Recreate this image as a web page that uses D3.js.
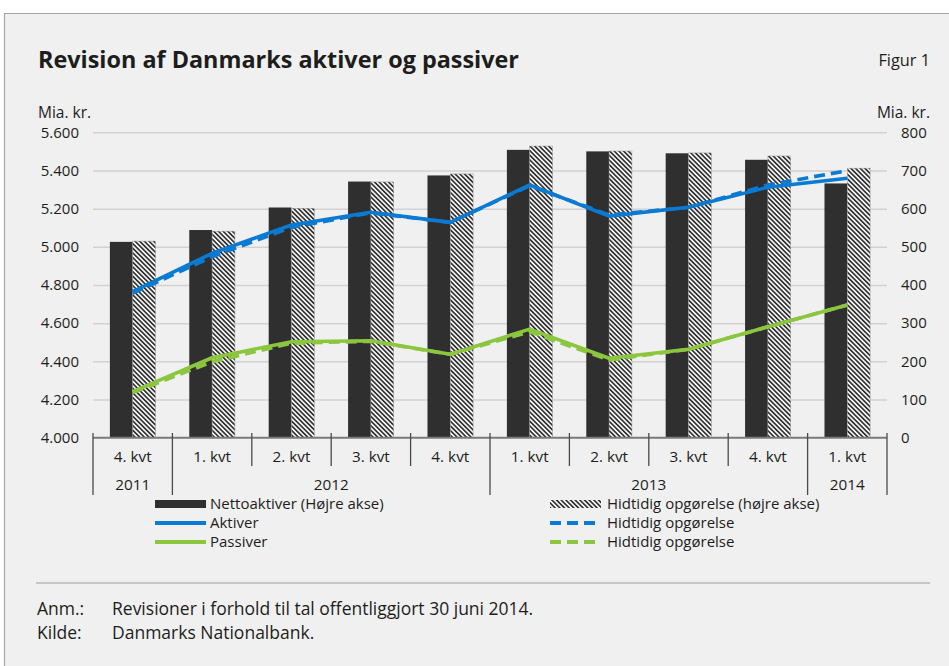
<!DOCTYPE html>
<html>
<head>
<meta charset="utf-8">
<script src="https://cdn.jsdelivr.net/npm/d3@7"></script>
<style>
	body { margin: 0; background: #fff; }
	svg text { font-family: "Open Sans", "Noto Sans", sans-serif; fill: #1d1d1b; }
</style>
</head>
<body>
<svg id="chart" width="949" height="666"></svg>
<script>
// periods (unique keys), shown labels and year of each quarter
const periods  = ["2011K4","2012K1","2012K2","2012K3","2012K4","2013K1","2013K2","2013K3","2013K4","2014K1"];
const quarters = ["4. kvt","1. kvt","2. kvt","3. kvt","4. kvt","1. kvt","2. kvt","3. kvt","4. kvt","1. kvt"];
const years    = ["2011","2012","2012","2012","2012","2013","2013","2013","2013","2014"];

// right axis, mia. kr.
const nettoaktiver     = [513, 544, 603, 671, 687, 754, 750, 745, 728, 666];
const nettoHidtidig    = [515, 541, 601, 670, 691, 764, 751, 746, 738, 706];
// left axis, mia. kr.
const aktiver          = [4765, 4966, 5114, 5181, 5128, 5324, 5161, 5207, 5312, 5359];
const aktiverHidtidig  = [4757, 4948, 5102, 5178, 5128, 5320, 5167, 5207, 5324, 5399];
const passiver         = [4241, 4419, 4503, 4508, 4437, 4569, 4416, 4463, 4581, 4695];
const passiverHidtidig = [4236, 4398, 4495, 4505, 4437, 4555, 4407, 4463, 4581, 4695];

const leftTicks  = [4000, 4200, 4400, 4600, 4800, 5000, 5200, 5400, 5600];
const rightTicks = [0, 100, 200, 300, 400, 500, 600, 700, 800];

const BLUE = "#0a7ad2", GREEN = "#8cc63f", DARK = "#2f2f2f";

const dk = d3.formatLocale({ decimal: ",", thousands: ".", grouping: [3], currency: ["", " kr."] });
const fmt = dk.format(",");

const svg = d3.select("#chart");
const plot = { left: 93, right: 887, top: 132.3, bottom: 437.7 };

// frame
svg.append("rect").attr("x", 4).attr("y", 13).attr("width", 945).attr("height", 653).attr("fill", "#f0f0f0");
svg.append("path").attr("d", "M4.5,666V13.5H949").attr("fill", "none").attr("stroke", "#a6a6a6").attr("stroke-width", 1.2);

// hatch pattern
const pat = svg.append("defs").append("pattern")
	.attr("id", "hatch")
	.attr("patternUnits", "userSpaceOnUse")
	.attr("width", 3.3).attr("height", 10)
	.attr("patternTransform", "rotate(-45)");
pat.append("rect").attr("width", 3.3).attr("height", 10).attr("fill", "#fafafa");
pat.append("rect").attr("width", 1.7).attr("height", 10).attr("fill", "#333");

// titles
svg.append("text").attr("x", 38).attr("y", 68).attr("font-size", 23.4).attr("font-weight", "bold")
	.text("Revision af Danmarks aktiver og passiver");
svg.append("text").attr("x", 930).attr("y", 66).attr("font-size", 16.3).attr("text-anchor", "end").text("Figur 1");
svg.append("text").attr("x", 38).attr("y", 118).attr("font-size", 15.5).text("Mia. kr.");
svg.append("text").attr("x", 930).attr("y", 118).attr("font-size", 15.5).attr("text-anchor", "end").text("Mia. kr.");

// scales
const x = d3.scaleBand().domain(periods).range([plot.left, plot.right]);
const xSub = d3.scaleBand().domain(["netto", "hidtidig"]).range([0, x.bandwidth()]).paddingOuter(0.74);
const yLeft = d3.scaleLinear().domain([4000, 5600]).range([plot.bottom, plot.top]);
const yRight = d3.scaleLinear().domain([0, 800]).range([plot.bottom, plot.top]);

// gridlines
svg.append("g")
	.attr("transform", "translate(" + plot.left + ",0)")
	.call(d3.axisLeft(yLeft).tickValues(leftTicks.slice(1)).tickSize(-(plot.right - plot.left)).tickFormat(""))
	.call(g => g.select(".domain").remove())
	.call(g => g.selectAll("line").attr("stroke", "#d2d2d2").attr("stroke-width", 1.5));

// y axes labels
svg.append("g")
	.attr("transform", "translate(" + plot.left + ",0)")
	.call(d3.axisLeft(yLeft).tickValues(leftTicks).tickSize(0).tickPadding(14).tickFormat(fmt))
	.call(g => g.select(".domain").remove())
	.call(g => g.selectAll("text").attr("font-size", 15).attr("font-family", null).attr("fill", "#1d1d1b"));
svg.append("g")
	.attr("transform", "translate(" + plot.right + ",0)")
	.call(d3.axisRight(yRight).tickValues(rightTicks).tickSize(0).tickPadding(14).tickFormat(fmt))
	.call(g => g.select(".domain").remove())
	.call(g => g.selectAll("text").attr("font-size", 15).attr("font-family", null).attr("fill", "#1d1d1b"));

// bars
const bars = svg.append("g");
bars.selectAll(".netto").data(nettoaktiver).enter().append("rect")
	.attr("class", "netto")
	.attr("x", (d, i) => x(periods[i]) + xSub("netto"))
	.attr("width", xSub.bandwidth())
	.attr("y", d => yRight(d))
	.attr("height", d => yRight(0) - yRight(d))
	.attr("fill", DARK);
bars.selectAll(".hidtidig").data(nettoHidtidig).enter().append("rect")
	.attr("class", "hidtidig")
	.attr("x", (d, i) => x(periods[i]) + xSub("hidtidig"))
	.attr("width", xSub.bandwidth())
	.attr("y", d => yRight(d))
	.attr("height", d => yRight(0) - yRight(d))
	.attr("fill", "url(#hatch)")
	.attr("stroke", "#9a9a9a").attr("stroke-width", 0.5);

// category axis
svg.append("line").attr("x1", plot.left).attr("x2", plot.right)
	.attr("y1", plot.bottom).attr("y2", plot.bottom)
	.attr("stroke", "#7a7a7a").attr("stroke-width", 2);

const edges = periods.map(p => x(p)).concat([plot.right]);
svg.append("g").selectAll("line").data(edges).enter().append("line")
	.attr("x1", d => d).attr("x2", d => d)
	.attr("y1", 433)
	.attr("y2", (d, i) => (i === 0 || i === periods.length || years[i] !== years[i - 1]) ? 495 : 466)
	.attr("stroke", "#4a4a4a").attr("stroke-width", 1.3);

svg.append("g").selectAll("text").data(quarters).enter().append("text")
	.attr("x", (d, i) => x(periods[i]) + x.bandwidth() / 2)
	.attr("y", 462)
	.attr("font-size", 15.3)
	.attr("text-anchor", "middle")
	.text(d => d);

const yearGroups = d3.groups(periods.map((p, i) => ({ p: p, year: years[i] })), d => d.year);
svg.append("g").selectAll("text").data(yearGroups).enter().append("text")
	.attr("x", d => (x(d[1][0].p) + x(d[1][d[1].length - 1].p) + x.bandwidth()) / 2)
	.attr("y", 490)
	.attr("font-size", 15.3)
	.attr("text-anchor", "middle")
	.text(d => d[0]);

// lines
const lineL = d3.line()
	.x((d, i) => x(periods[i]) + x.bandwidth() / 2)
	.y(d => yLeft(d));

const series = [
	{ values: aktiver, color: BLUE, dash: null },
	{ values: passiver, color: GREEN, dash: null },
	{ values: aktiverHidtidig, color: BLUE, dash: "11,6" },
	{ values: passiverHidtidig, color: GREEN, dash: "11,6" }
];
svg.append("g").selectAll("path").data(series).enter().append("path")
	.attr("d", d => lineL(d.values))
	.attr("fill", "none")
	.attr("stroke", d => d.color)
	.attr("stroke-width", 3.6)
	.attr("stroke-dasharray", d => d.dash)
	.attr("stroke-linejoin", "round");

// legend
const legendItems = [
	{ label: "Nettoaktiver (Højre akse)", type: "bar", fill: DARK, col: 0, row: 0 },
	{ label: "Aktiver", type: "line", color: BLUE, col: 0, row: 1 },
	{ label: "Passiver", type: "line", color: GREEN, col: 0, row: 2 },
	{ label: "Hidtidig opgørelse (højre akse)", type: "bar", fill: "url(#hatch)", col: 1, row: 0 },
	{ label: "Hidtidig opgørelse", type: "line", color: BLUE, dash: "11,6", col: 1, row: 1 },
	{ label: "Hidtidig opgørelse", type: "line", color: GREEN, dash: "11,6", col: 1, row: 2 }
];
const legendX = [155, 550], legendY = 504, legendRow = 19;
const leg = svg.append("g").selectAll("g").data(legendItems).enter().append("g")
	.attr("transform", d => "translate(" + legendX[d.col] + "," + (legendY + d.row * legendRow) + ")");
leg.filter(d => d.type === "bar").append("rect")
	.attr("x", 0).attr("y", -4).attr("width", 51).attr("height", 8)
	.attr("fill", d => d.fill);
leg.filter(d => d.type === "line").append("line")
	.attr("x1", 0).attr("x2", 51).attr("y1", 0).attr("y2", 0)
	.attr("stroke", d => d.color).attr("stroke-width", 4)
	.attr("stroke-dasharray", d => d.dash || null);
leg.append("text")
	.attr("x", d => d.col === 0 ? 55 : 57)
	.attr("y", 5.3)
	.attr("font-size", 15)
	.text(d => d.label);

// footer
svg.append("line").attr("x1", 36).attr("x2", 930).attr("y1", 583).attr("y2", 583)
	.attr("stroke", "#9a9a9a").attr("stroke-width", 1.2);
const notes = [["Anm.:", "Revisioner i forhold til tal offentliggjort 30 juni 2014."], ["Kilde:", "Danmarks Nationalbank."]];
const foot = svg.append("g").selectAll("g").data(notes).enter().append("g")
	.attr("transform", (d, i) => "translate(0," + (615 + i * 24) + ")");
foot.append("text").attr("x", 37).attr("font-size", 17.5).text(d => d[0]);
foot.append("text").attr("x", 112).attr("font-size", 17.5).text(d => d[1]);
</script>
</body>
</html>
